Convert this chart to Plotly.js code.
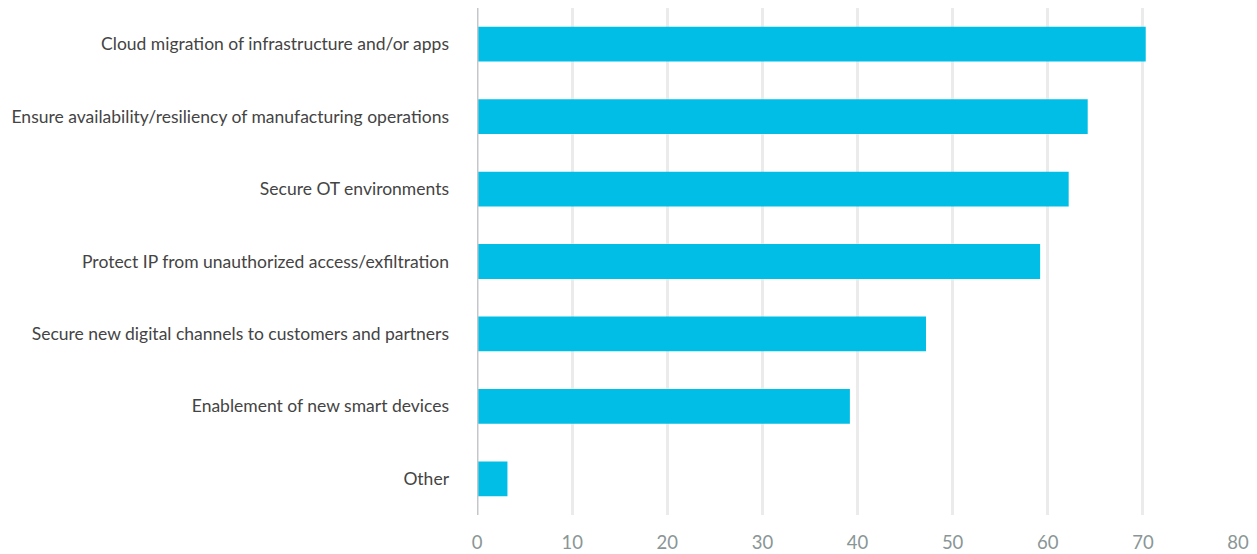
<!DOCTYPE html>
<html>
<head>
<meta charset="utf-8">
<script src="https://cdn.plot.ly/plotly-3.0.1.min.js"></script>
<style>html,body{margin:0;padding:0;background:#fff;}#chart{width:1257px;height:554px;}</style>
</head>
<body>
<div id="chart"></div>
<script>
const categories = [
  "Cloud migration of infrastructure and/or apps",
  "Ensure availability/resiliency of manufacturing operations",
  "Secure OT environments",
  "Protect IP from unauthorized access/exfiltration",
  "Secure new digital channels to customers and partners",
  "Enablement of new smart devices",
  "Other"
];
const values = [70.3, 64.2, 62.2, 59.2, 47.2, 39.2, 3.2];
const xTicks = [0, 10, 20, 30, 40, 50, 60, 70, 80];

const trace = {
  type: "bar",
  orientation: "h",
  y: categories,
  x: values,
  width: 0.48,
  marker: {color: "#00bee6"},
  hoverinfo: "x+y"
};

const layout = {
  width: 1257,
  height: 554,
  margin: {l: 477, r: 19, t: 8, b: 39},
  paper_bgcolor: "#ffffff",
  plot_bgcolor: "#ffffff",
  showlegend: false,
  font: {family: "Lato, 'Open Sans', sans-serif"},
  xaxis: {
    range: [0, 80],
    tickvals: xTicks,
    ticktext: xTicks.map(String),
    showgrid: true,
    gridcolor: "#ebebeb",
    gridwidth: 3,
    zeroline: false,
    showline: false,
    ticks: "",
    ticklabelstandoff: 14,
    tickfont: {size: 18.5, color: "#8a9696"},
    fixedrange: true
  },
  yaxis: {
    autorange: "reversed",
    range: [6.5, -0.5],
    showgrid: false,
    zeroline: false,
    showline: false,
    ticks: "",
    ticklabelstandoff: 27,
    tickfont: {size: 17.5, color: "#444444"},
    fixedrange: true
  },
  shapes: [{
    type: "line", xref: "x", yref: "paper",
    x0: 0, x1: 0, y0: 0, y1: 1,
    line: {color: "#c3c7ca", width: 3},
    layer: "above"
  }]
};

Plotly.newPlot("chart", [trace], layout, {displayModeBar: false, staticPlot: true});
</script>
</body>
</html>
